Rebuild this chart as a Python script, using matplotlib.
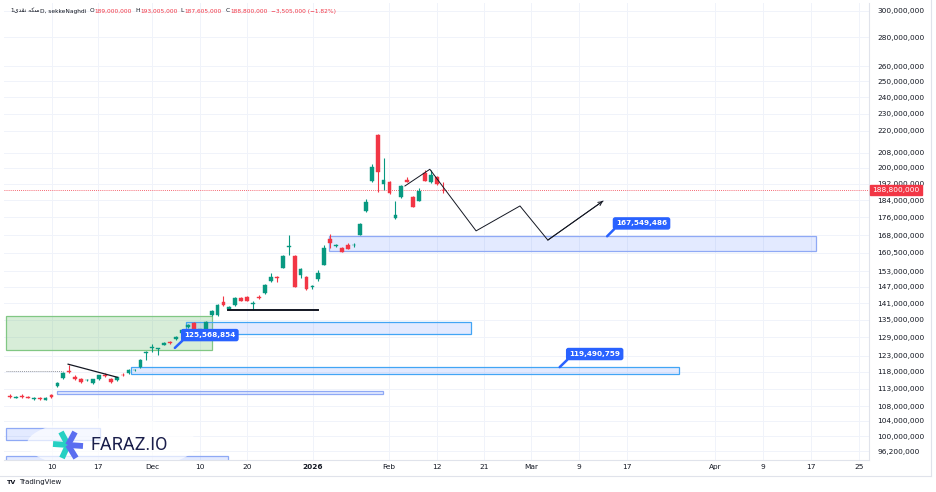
import matplotlib.pyplot as plt
from matplotlib.patches import Rectangle, Ellipse
from matplotlib.lines import Line2D
from matplotlib.ticker import FixedLocator, FuncFormatter, NullLocator
from matplotlib.transforms import Affine2D, blended_transform_factory

# ---------------- data (prices in millions) ----------------
opens = [110.8, 110.4, 110.9, 110.6, 110.1, 110.4, 109.9, 111.1, 113.8, 116.2,
         118.4, 116.5, 115.9, 115.5, 114.7, 115.9, 117.2, 115.9, 115.6, 117.2,
         117.7, 118.5, 119.5, 124.0, 125.4, 125.3, 126.6, 127.5, 128.5, 130.5,
         132.6, 134.0, 131.2, 131.8, 136.7, 136.7, 141.4, 138.9, 140.3, 142.9,
         143.3, 140.8, 143.2, 144.7, 149.2, 150.8, 154.4, 162.8, 159.2, 151.6,
         150.8, 146.8, 150.0, 155.6, 166.3, 163.6, 162.5, 163.8, 163.7, 168.1,
         178.8, 193.3, 217.7, 191.7, 192.8, 175.6, 185.4, 193.8, 185.4, 183.5,
         197.4, 192.8, 195.4, 189.0]
highs = [111.4, 110.9, 111.6, 111.0, 110.6, 110.7, 110.5, 111.6, 115.0, 117.9,
         120.2, 117.2, 116.3, 115.9, 116.0, 117.2, 117.7, 116.2, 116.6, 117.6,
         118.8, 118.9, 121.9, 124.5, 126.8, 125.7, 127.4, 127.8, 129.4, 131.8,
         133.5, 134.3, 132.0, 134.5, 138.4, 140.5, 143.6, 139.8, 143.1, 143.2,
         143.6, 141.8, 144.0, 148.0, 152.4, 151.1, 159.5, 168.1, 159.5, 154.2,
         151.1, 147.7, 153.6, 163.8, 168.6, 164.4, 162.8, 164.6, 164.6, 173.2,
         184.5, 202.0, 218.0, 205.2, 193.2, 183.5, 191.2, 195.5, 185.8, 189.8,
         199.0, 199.0, 195.8, 193.0]
lows = [110.2, 110.2, 110.3, 110.2, 109.9, 109.9, 109.7, 110.4, 113.6, 116.0,
        117.7, 115.5, 114.8, 115.3, 114.5, 115.7, 116.4, 114.8, 115.4, 116.7,
        117.5, 118.2, 119.3, 121.7, 124.3, 123.4, 126.4, 127.0, 128.3, 130.3,
        132.3, 131.3, 131.0, 131.5, 136.5, 136.5, 139.9, 138.5, 140.1, 141.6,
        141.6, 138.5, 142.5, 144.5, 148.8, 148.8, 154.2, 159.6, 146.8, 150.4,
        146.0, 146.2, 149.2, 155.4, 162.5, 163.0, 160.7, 162.0, 163.0, 167.9,
        178.6, 193.0, 187.8, 188.8, 187.0, 175.4, 185.2, 192.6, 180.5, 183.3,
        193.2, 192.5, 191.5, 187.6]
closes = [110.5, 110.7, 110.5, 110.3, 110.4, 110.0, 110.3, 110.6, 114.8, 117.7,
          118.0, 115.9, 115.0, 115.7, 115.9, 117.1, 116.9, 115.0, 116.5, 117.0,
          118.6, 118.7, 121.7, 124.3, 126.0, 125.5, 127.2, 127.2, 129.2, 131.5,
          133.2, 131.5, 131.8, 134.3, 138.1, 140.3, 140.3, 139.6, 142.9, 141.8,
          141.8, 141.1, 142.9, 147.7, 150.8, 150.4, 159.2, 163.4, 147.0, 154.0,
          146.2, 147.2, 152.4, 162.5, 164.6, 163.9, 160.9, 162.1, 163.9, 173.0,
          183.1, 200.4, 197.9, 193.8, 187.3, 177.0, 190.8, 192.8, 180.7, 188.3,
          193.3, 196.4, 191.7, 188.8]
last_price = 188.8

y_ticks = [96.2, 100, 104, 108, 113, 118, 123, 129, 135, 141, 147, 153, 160.5,
           168, 176, 184, 192, 200, 208, 220, 230, 240, 250, 260, 280, 300]
x_ticks = [7.1, 14.8, 24.0, 32.0, 40.0, 51.1, 63.9, 72.0, 79.9, 87.9, 96.0,
           104.0, 118.9, 127.0, 135.1, 143.2]
x_labels = ['10', '17', 'Dec', '10', '20', '2026', 'Feb', '12', '21', 'Mar',
            '9', '17', 'Apr', '9', '17', '25']

# zones: bar from / bar to / low / high
green_zone = (-0.67, 34.1, 124.9, 136.4)
blue_x0 = [29.7, 20.4, 53.8, 7.9, -0.67, -0.67]
blue_x1 = [77.7, 112.8, 135.9, 62.9, 15.2, 36.8]
blue_lo = [130.1, 117.4, 161.2, 111.5, 98.9, 92.0]
blue_hi = [134.1, 119.49, 167.55, 112.3, 102.1, 95.0]

# price callouts: level, bar at tip, label bar, label price
callout_price = [125.568854, 119.490759, 167.549486]
callout_tip_x = [27.8, 92.7, 100.7]
callout_lbl_x = [33.7, 98.6, 106.5]
callout_lbl_y = [129.8, 123.6, 173.2]

trend_x = [9.8, 18.1]
trend_y = [120.4, 116.4]
support_x = [36.8, 51.9]
support_y = [138.4, 138.4]
path_x = [66.6, 70.8, 78.6, 86.0, 90.7, 100.0]
path_y = [190.8, 199.2, 169.9, 181.2, 165.9, 183.5]

GREEN = '#089981'
RED = '#f23645'
BLUE = '#2962ff'
TXT = '#131722'
GRID = '#f0f3fa'

fig = plt.figure(figsize=(9.36, 4.92), dpi=100)
px = Affine2D().scale(1 / 936, -1 / 492).translate(0, 1) + fig.transFigure
ax = fig.add_axes([4 / 936, 1 - 460 / 492, 865 / 936, 457 / 492])
ax.set_yscale('log')
ax.set_xlim(-1.01, 144.86)
ax.set_ylim(94.0, 306.1)

# grid + axes
ax.yaxis.set_major_locator(FixedLocator(y_ticks))
ax.yaxis.set_minor_locator(NullLocator())
ax.yaxis.set_major_formatter(FuncFormatter(lambda v, p: f"{v * 1e6:,.0f}"))
ax.yaxis.tick_right()
ax.set_xticks(x_ticks)
ax.set_xticklabels(x_labels)
ax.xaxis.set_minor_locator(NullLocator())
ax.grid(True, color=GRID, lw=0.7)
ax.set_axisbelow(True)
ax.tick_params(axis='y', length=0, pad=5.8, labelsize=5.3, labelcolor=TXT)
ax.tick_params(axis='x', length=0, pad=3, labelsize=5.3, labelcolor=TXT)
ax.get_xticklabels()[5].set_fontweight('bold')
for s in ['top', 'left']:
    ax.spines[s].set_visible(False)
for s in ['bottom', 'right']:
    ax.spines[s].set_color('#e0e3eb')
    ax.spines[s].set_linewidth(0.8)

# zones
gx0, gx1, glo, ghi = green_zone
ax.add_patch(Rectangle((gx0, glo), gx1 - gx0, ghi - glo, fc='#4caf50', alpha=0.22,
                       ec='none', zorder=1))
ax.add_patch(Rectangle((gx0, glo), gx1 - gx0, ghi - glo, fc='none', ec='#81c784',
                       lw=0.9, zorder=1))
edge_cols = ['#42a5f5', '#42a5f5', '#8fa9f5', '#8fa9f5', '#8fa9f5', '#8fa9f5']
for x0, x1, lo, hi, ec in zip(blue_x0, blue_x1, blue_lo, blue_hi, edge_cols):
    ax.add_patch(Rectangle((x0, lo), x1 - x0, hi - lo, fc=BLUE, alpha=0.13,
                           ec='none', zorder=1))
    ax.add_patch(Rectangle((x0, lo), x1 - x0, hi - lo, fc='none', ec=ec,
                           lw=0.9, zorder=1))

# dotted lines
ax.axhline(last_price, color=RED, lw=0.6, ls=(0, (1, 1.5)), zorder=2)
ax.plot([-0.67, 8.9], [118.3, 118.3], color='#9598a1', lw=0.7, ls=(0, (1, 1)), zorder=2)

# candles
xs = list(range(len(opens)))
cols = [GREEN if c >= o else RED for o, c in zip(opens, closes)]
ax.vlines(xs, lows, highs, colors=cols, lw=0.8, zorder=3)
bottoms = [min(o, c) for o, c in zip(opens, closes)]
heights = [max(abs(c - o), 0.15) for o, c in zip(opens, closes)]
ax.bar(xs, heights, bottom=bottoms, width=0.64, color=cols, edgecolor=cols,
       lw=0.3, zorder=4)

# drawings
ax.plot(trend_x, trend_y, color='#131722', lw=0.9, zorder=5)
ax.plot(support_x, support_y, color='#131722', lw=1.4, zorder=5)
ax.plot(path_x, path_y, color='#131722', lw=0.7, zorder=5)
ax.annotate('', xy=(path_x[-1], path_y[-1]), xytext=(path_x[-2], path_y[-2]),
            arrowprops=dict(arrowstyle='->', lw=0.7, color='#131722',
                            shrinkA=0, shrinkB=0, mutation_scale=7), zorder=5)

for p, tx, lx, ly in zip(callout_price, callout_tip_x, callout_lbl_x, callout_lbl_y):
    ax.annotate(f"{p * 1e6:,.0f}", xy=(tx, p), xytext=(lx, ly),
                ha='center', va='center', color='white', fontsize=5.2, fontweight='bold',
                bbox=dict(boxstyle='round,pad=0.35,rounding_size=0.25', fc=BLUE, ec=BLUE),
                arrowprops=dict(arrowstyle='-', color=BLUE, lw=1.8, relpos=(0.03, 0.1),
                                shrinkA=0, shrinkB=0), zorder=8)

# last price tag on the axis
bt = blended_transform_factory(ax.transAxes, ax.transData)
ax.text(1.004, last_price, f"{last_price * 1e6:,.0f}", transform=bt, ha='left', va='center',
        fontsize=5.3, color='white', clip_on=False, zorder=9,
        bbox=dict(boxstyle='square,pad=0.3', fc=RED, ec=RED))

# watermark
ax.add_patch(Ellipse((112, 444), 170, 52, transform=px, fc='white', alpha=0.7,
                     ec='none', zorder=10))
teal, violet = '#26d0c3', '#5b6ef0'
arms = [(-7, -13, teal), (-15, -1, teal), (-6, 13, teal),
        (7, -13, violet), (15, 1, violet), (8, 13, violet)]
for dx, dy, c in arms:
    ax.add_line(Line2D([68, 68 + dx], [445, 445 + dy], transform=px, color=c,
                       lw=4.2, solid_capstyle='butt', zorder=11, clip_on=False))
ax.text(90, 445, 'FARAZ.IO', transform=px, fontsize=13, color='#1b1f4b',
        family='Roboto', va='center', ha='left', zorder=11, clip_on=False)

# header
persian = '\uFBFC\uFEAA\uFED8\uFEE7 \uFEEA\uFB91\uFEB3'
hdr = [(10, '1', TXT), (14.5, persian, TXT), (40, 'D, sekkeNaghdi', TXT),
       (89.5, 'O', TXT), (94, '189,000,000', RED), (135.5, 'H', TXT), (140, '193,005,000', RED),
       (180.5, 'L', TXT), (184.5, '187,605,000', RED), (225.5, 'C', TXT), (230, '188,800,000', RED),
       (271, '\u22123,505,000 (\u22121.82%)', RED)]
for x, s, c in hdr:
    fig.text(x, 11, s, transform=px, fontsize=4.2, color=c, va='center', ha='left')

# frame + footer
fig.add_artist(Line2D([0, 931], [476, 476], transform=px, color='#e0e3eb', lw=0.8))
fig.add_artist(Line2D([931, 931], [0, 476], transform=px, color='#e0e3eb', lw=0.8))
fig.text(7, 482, 'TV', transform=px, fontsize=4.6, fontweight='bold', color=TXT, va='center')
fig.text(19, 482, 'TradingView', transform=px, fontsize=5.0, color=TXT, va='center')

fig.savefig('out.png', dpi=100, facecolor='white')
